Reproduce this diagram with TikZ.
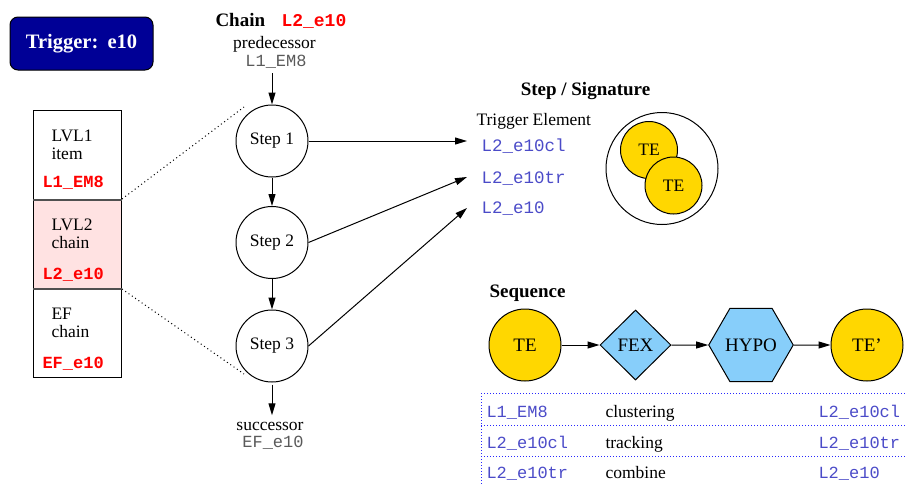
\documentclass[tikz,border=0pt]{standalone}
\usepackage{fontspec}
\setmainfont{Liberation Serif}
\setmonofont{Liberation Mono}
\usetikzlibrary{arrows.meta,shapes.geometric}

\definecolor{trignavy}{RGB}{0,0,150}
\definecolor{tegold}{RGB}{255,215,0}
\definecolor{algblue}{RGB}{135,206,250}
\definecolor{chainpink}{RGB}{255,226,226}
\definecolor{tename}{RGB}{75,75,200}
\definecolor{chainred}{RGB}{255,0,0}
\definecolor{seqgray}{RGB}{90,90,90}
\definecolor{dotblue}{RGB}{40,40,255}
\definecolor{sepgray}{RGB}{80,80,80}

\begin{document}
\begin{tikzpicture}[x=1pt,y=-1pt,line width=1pt,
  serif/.style={anchor=base,inner sep=0pt,font=\fontsize{17.5}{20}\selectfont},
  serifl/.style={serif,anchor=base west},
  mono/.style={anchor=base west,inner sep=0pt,font=\fontsize{17}{20}\selectfont\ttfamily},
  redmono/.style={mono,text=chainred,font=\fontsize{17}{20}\selectfont\ttfamily\bfseries},
  bluemono/.style={mono,text=tename},
  title/.style={anchor=base,inner sep=0pt,font=\fontsize{19}{22}\selectfont\bfseries},
  stepnode/.style={circle,draw,fill=white,minimum size=72pt,inner sep=0pt,
    font=\fontsize{17.5}{20}\selectfont},
  tecirc/.style={circle,draw,fill=tegold,inner sep=0pt},
  algnode/.style={draw,fill=algblue,inner sep=0pt,font=\fontsize{19}{22}\selectfont},
  cell/.style={draw,minimum width=88pt,minimum height=89pt,inner sep=0pt,anchor=north west},
  sepline/.style={draw=sepgray,line width=1.6pt},
  dotline/.style={dash pattern=on 1pt off 3pt},
  tabline/.style={draw=dotblue,dash pattern=on 1pt off 2pt},
  flow/.style={-{Triangle[length=12pt,width=7pt]}}]

\useasboundingbox (0,0) rectangle (905,485);

% trigger label
\node[draw,fill=trignavy,rounded corners=8pt,minimum width=143pt,minimum height=53pt,
  inner sep=0pt,text=white,font=\fontsize{20.5}{24}\selectfont\bfseries]
  (trig) at (81.5,43.5) {Trigger:\hspace{0.45em}e10};

% trigger levels
\node[cell] (c1) at (33,110) {};
\node[cell,fill=chainpink] (c2) at (33,199) {};
\node[cell] (c3) at (33,288) {};
\draw[sepline] (c1.south west) -- (c1.south east);
\draw[sepline] (c2.south west) -- (c2.south east);

\node[serifl] (lvl1) at (51,141) {LVL1};
\node[serifl] (item) at (51,159) {item};
\node[redmono] (l1name) at (42,187) {L1\_EM8};
\node[serifl] (lvl2) at (51,230) {LVL2};
\node[serifl] (chain2) at (51,248) {chain};
\node[redmono] (l2name) at (42,279) {L2\_e10};
\node[serifl] (ef) at (51,319) {EF};
\node[serifl] (chain3) at (51,337) {chain};
\node[redmono] (efname) at (42,368) {EF\_e10};

% zoom lines to the chain
\coordinate (z1) at (244,107);
\coordinate (z2) at (244,374);
\draw[dotline] (c2.north east) -- (z1);
\draw[dotline] (c2.south east) -- (z2);

% chain
\node[title,anchor=base west] (chaint) at (215,26) {Chain};
\node[redmono,font=\fontsize{18}{20}\selectfont\ttfamily\bfseries] (chainn) at (281,26) {L2\_e10};
\node[serif] (pred) at (274.5,48) {predecessor};
\node[mono,anchor=base,text=seqgray] (predn) at (276,66) {L1\_EM8};

\node[stepnode] (s1) at (272,141) {Step 1};
\node[stepnode] (s2) at (272,242.5) {Step 2};
\node[stepnode] (s3) at (272,346) {Step 3};

\node[serif] (succ) at (270,430) {successor};
\node[mono,anchor=base,text=seqgray] (succn) at (273,447) {EF\_e10};

\draw[flow,shorten <=5pt] (predn.south -| s1.north) -- (s1.north);
\draw[flow] (s1.south) -- (s2.north);
\draw[flow] (s2.south) -- (s3.north);
\draw[flow,shorten <=2pt,shorten >=6pt] (s3.south) -- (succ.north -| s3.south);

% step / signature
\node[title] (sigt) at (585.5,95) {Step / Signature};
\node[serifl] (tet) at (476,125) {Trigger Element};
\node[bluemono,font=\fontsize{17.5}{20}\selectfont\ttfamily] (te1) at (481,151) {L2\_e10cl};
\node[bluemono,font=\fontsize{17.5}{20}\selectfont\ttfamily] (te2) at (481,183) {L2\_e10tr};
\node[bluemono,font=\fontsize{17.5}{20}\selectfont\ttfamily] (te3) at (481,213) {L2\_e10};

\coordinate (a1) at (467,141);
\coordinate (a2) at (467,177);
\coordinate (a3) at (467,208);
\draw[flow] (s1.east) -- (a1);
\draw[flow] (s2.east) -- (a2);
\draw[flow] (s3.east) -- (a3);

\node[circle,draw,fill=white,minimum size=112pt,inner sep=0pt] (sig) at (662,168.5) {};
\node[tecirc,minimum size=57pt,font=\fontsize{17.5}{20}\selectfont] (sigte1) at (649,150) {TE};
\node[tecirc,minimum size=57pt,font=\fontsize{17.5}{20}\selectfont] (sigte2) at (673.5,185.5) {TE};

% sequence
\node[title,anchor=base west] (seqt) at (489,297) {Sequence};
\node[tecirc,minimum size=72pt,font=\fontsize{19}{22}\selectfont] (qte) at (525,345) {TE};
\node[algnode,diamond,minimum width=71pt,minimum height=70pt] (fex) at (635.5,345) {FEX};
\node[algnode,regular polygon,regular polygon sides=6,minimum size=80pt] (hypo) at (751,345) {HYPO};
\node[tecirc,minimum size=72pt,font=\fontsize{19}{22}\selectfont] (qteo) at (867,345) {TE'};
\draw[flow] (qte.east) -- (fex.west);
\draw[flow] (fex.east) -- (hypo.west);
\draw[flow] (hypo.east) -- (qteo.west);

% sequence table
\draw[tabline] (481,393) -- (905,393);
\draw[tabline] (481,425) -- (905,425);
\draw[tabline] (481,456) -- (905,456);
\draw[tabline] (481,393) -- (481,485);

\node[bluemono] (r1a) at (486,417) {L1\_EM8};
\node[serifl] (r1b) at (605,417) {clustering};
\node[bluemono] (r1c) at (818,417) {L2\_e10cl};
\node[bluemono] (r2a) at (486,448) {L2\_e10cl};
\node[serifl] (r2b) at (605,448) {tracking};
\node[bluemono] (r2c) at (818,448) {L2\_e10tr};
\node[bluemono] (r3a) at (486,478) {L2\_e10tr};
\node[serifl] (r3b) at (605,478) {combine};
\node[bluemono] (r3c) at (818,478) {L2\_e10};

\end{tikzpicture}
\end{document}
